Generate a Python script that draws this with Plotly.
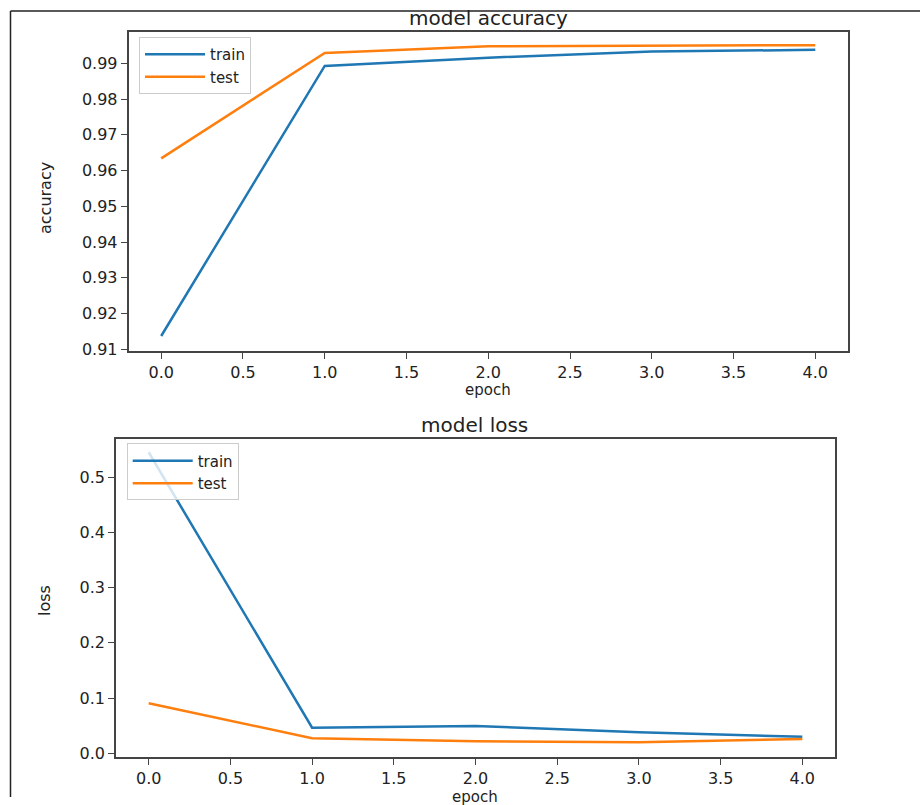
import plotly.graph_objects as go

epochs = [0, 1, 2, 3, 4]
acc_train = [0.9137, 0.9893, 0.9916, 0.9933, 0.9938]
acc_test = [0.9634, 0.9929, 0.9948, 0.9950, 0.9951]
loss_train = [0.5453, 0.0464, 0.0495, 0.0380, 0.0300]
loss_test = [0.0906, 0.0272, 0.0217, 0.0199, 0.0259]

x_ticks = [0, 0.5, 1, 1.5, 2, 2.5, 3, 3.5, 4]
acc_ticks = [0.91, 0.92, 0.93, 0.94, 0.95, 0.96, 0.97, 0.98, 0.99]
loss_ticks = [0.0, 0.1, 0.2, 0.3, 0.4, 0.5]

BLUE = "#1f77b4"
ORANGE = "#ff7f0e"
FONT = "DejaVu Sans"
W, H = 920, 805
KY = 1.01  # vertical compensation


def px_x(p):
    return p / W


def px_y(p):
    return max(0.0, 1 - p * KY / H)


fig = go.Figure()
fig.add_trace(go.Scatter(x=epochs, y=acc_train, mode="lines", name="train",
                         line=dict(color=BLUE, width=2.5), xaxis="x", yaxis="y", legend="legend"))
fig.add_trace(go.Scatter(x=epochs, y=acc_test, mode="lines", name="test",
                         line=dict(color=ORANGE, width=2.5), xaxis="x", yaxis="y", legend="legend"))
fig.add_trace(go.Scatter(x=epochs, y=loss_train, mode="lines", name="train",
                         line=dict(color=BLUE, width=2.5), xaxis="x2", yaxis="y2", legend="legend2"))
fig.add_trace(go.Scatter(x=epochs, y=loss_test, mode="lines", name="test",
                         line=dict(color=ORANGE, width=2.5), xaxis="x2", yaxis="y2", legend="legend2"))

axis_common = dict(showline=True, linecolor="#444", linewidth=1.5, mirror=True,
                   ticks="outside", ticklen=6, tickwidth=1.3, tickcolor="#444",
                   showgrid=False, zeroline=False,
                   tickfont=dict(family=FONT, size=16, color="#222"))

legend_common = dict(xanchor="left", yanchor="top", itemwidth=60,
                     bgcolor="rgba(255,255,255,0.8)", bordercolor="#ccc", borderwidth=1,
                     font=dict(family=FONT, size=15, color="#222"), tracegroupgap=0)

fig.update_layout(
    width=W, height=H,
    margin=dict(l=0, r=0, t=0, b=0),
    paper_bgcolor="white", plot_bgcolor="white",
    font=dict(family=FONT, color="#222"),
    xaxis=dict(domain=[px_x(128.5), px_x(848)], anchor="y", range=[-0.2, 4.2],
               tickvals=x_ticks, tickformat=".1f", **axis_common),
    yaxis=dict(domain=[px_y(351), px_y(32.3)], anchor="x", range=[0.9095, 0.9987],
               tickvals=acc_ticks, tickformat=".2f", **axis_common),
    xaxis2=dict(domain=[px_x(116), px_x(835)], anchor="y2", range=[-0.2, 4.2],
                tickvals=x_ticks, tickformat=".1f", **axis_common),
    yaxis2=dict(domain=[px_y(757.5), px_y(439.3)], anchor="x2", range=[-0.0076, 0.5688],
                tickvals=loss_ticks, tickformat=".1f", **axis_common),
    legend=dict(x=px_x(139), y=px_y(37), **legend_common),
    legend2=dict(x=px_x(126.7), y=px_y(443.5), **legend_common),
    showlegend=True,
)

ann = [
    dict(text="model accuracy", x=px_x(488), y=px_y(18), size=20, angle=0),
    dict(text="model loss", x=px_x(475), y=px_y(425), size=20, angle=0),
    dict(text="epoch", x=px_x(488), y=px_y(390), size=15, angle=0),
    dict(text="epoch", x=px_x(475), y=px_y(797), size=15, angle=0),
    dict(text="accuracy", x=px_x(46), y=px_y(198), size=16, angle=-90),
    dict(text="loss", x=px_x(45), y=px_y(601), size=16, angle=-90),
]
for a in ann:
    fig.add_annotation(text=a["text"], x=a["x"], y=a["y"], xref="paper", yref="paper",
                       xanchor="center", yanchor="middle", showarrow=False,
                       textangle=a["angle"], font=dict(family=FONT, size=a["size"], color="#222"))

# outer frame lines (top and left)
fig.add_shape(type="line", xref="paper", yref="paper", x0=px_x(10.5), x1=1.0,
              y0=px_y(11), y1=px_y(11), line=dict(color="#222", width=1.5))
fig.add_shape(type="line", xref="paper", yref="paper", x0=px_x(10.5), x1=px_x(10.5),
              y0=px_y(11), y1=0, line=dict(color="#222", width=1.5))

fig.write_html("out.html",
               config={"displayModeBar": False},
               post_script="document.body.style.margin='0';document.body.style.overflow='hidden';")
